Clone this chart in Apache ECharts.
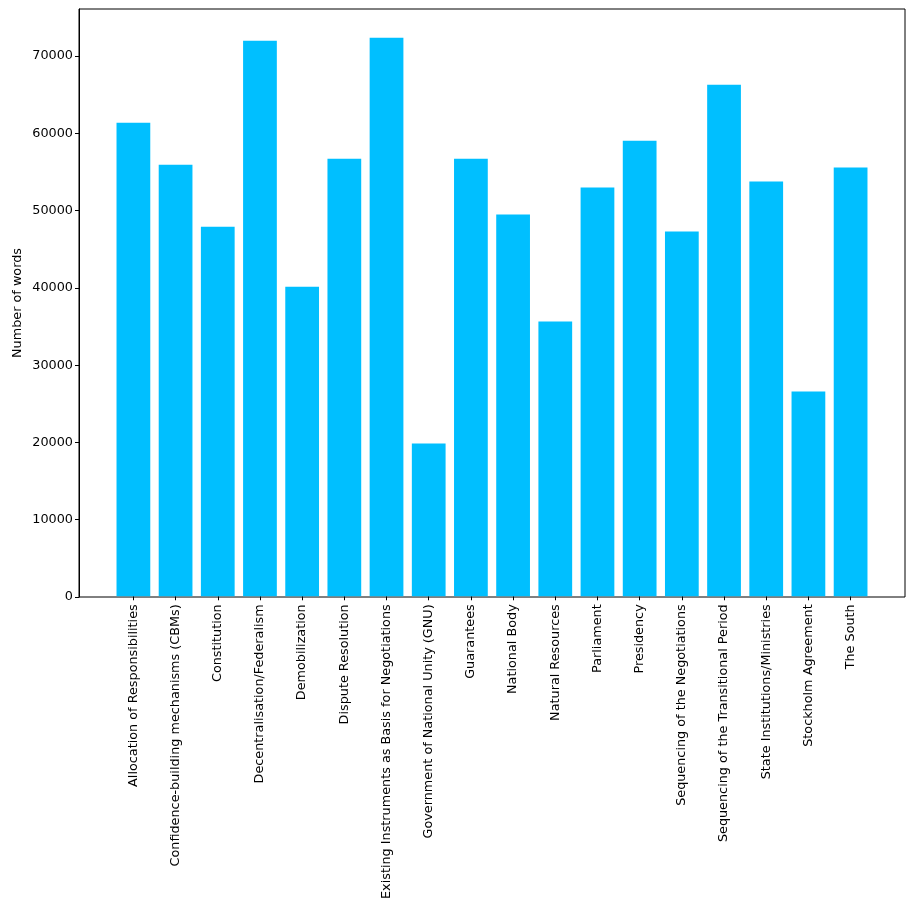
<!DOCTYPE html>
<html>
<head>
<meta charset="utf-8">
<script src="https://cdn.jsdelivr.net/npm/echarts@6/dist/echarts.min.js"></script>
<style>
html,body{margin:0;padding:0;background:#fff;}
#chart{width:916px;height:902px;}
</style>
</head>
<body>
<div id="chart"></div>
<script>
const categories = [
  "Allocation of Responsibilities",
  "Confidence-building mechanisms (CBMs)",
  "Constitution",
  "Decentralisation/Federalism",
  "Demobilization",
  "Dispute Resolution",
  "Existing Instruments as Basis for Negotiations",
  "Government of National Unity (GNU)",
  "Guarantees",
  "National Body",
  "Natural Resources",
  "Parliament",
  "Presidency",
  "Sequencing of the Negotiations",
  "Sequencing of the Transitional Period",
  "State Institutions/Ministries",
  "Stockholm Agreement",
  "The South"
];
const wordCounts = [61370, 55920, 47890, 72000, 40110, 56700, 72390, 19800, 56700, 49480, 35620, 52980, 59030, 47280, 66290, 53760, 26540, 55570];
const yTicks = [0, 10000, 20000, 30000, 40000, 50000, 60000, 70000];
const yLabel = "Number of words";

const yMax = 76100;
const font = "DejaVu Sans";
const fs = 12.8;
const chart = echarts.init(document.getElementById('chart'), null, {renderer: 'canvas'});
chart.setOption({
  animation: false,
  backgroundColor: '#fff',
  grid: [
    {left: 79, right: 11, top: 9, bottom: 305, show: true, borderColor: '#000', borderWidth: 1, backgroundColor: 'transparent'},
    {left: 112.3, right: 44.3, top: 9, bottom: 305}
  ],
  xAxis: [
    {gridIndex: 0, type: 'value', min: 0, max: 1, show: false},
    {gridIndex: 1, type: 'category', data: categories,
     axisLine: {show: false},
     axisTick: {show: true, alignWithLabel: true, length: 4, lineStyle: {color: '#000'}},
     axisLabel: {rotate: 90, interval: 0, margin: 8, color: '#000', fontFamily: font, fontSize: fs},
     splitLine: {show: false}}
  ],
  yAxis: [
    {gridIndex: 0, type: 'value', min: 0, max: yMax, interval: 10000,
     axisLine: {show: true, lineStyle: {color: '#000'}},
     axisTick: {show: true, length: 4, lineStyle: {color: '#000'}, customValues: yTicks},
     axisLabel: {color: '#000', fontFamily: font, fontSize: fs, margin: 6, customValues: yTicks,
       formatter: v => yTicks.includes(v) ? String(v) : ''},
     splitLine: {show: false},
     name: yLabel, nameLocation: 'middle', nameGap: 55, nameRotate: 90, nameMoveOverlap: false,
     nameTextStyle: {color: '#000', fontFamily: font, fontSize: fs}},
    {gridIndex: 1, type: 'value', min: 0, max: yMax, show: false, splitLine: {show: false}}
  ],
  series: [{
    type: 'bar',
    xAxisIndex: 1, yAxisIndex: 1,
    data: wordCounts,
    barWidth: '80%',
    itemStyle: {color: '#00BFFF'}
  }]
});
</script>
</body>
</html>
